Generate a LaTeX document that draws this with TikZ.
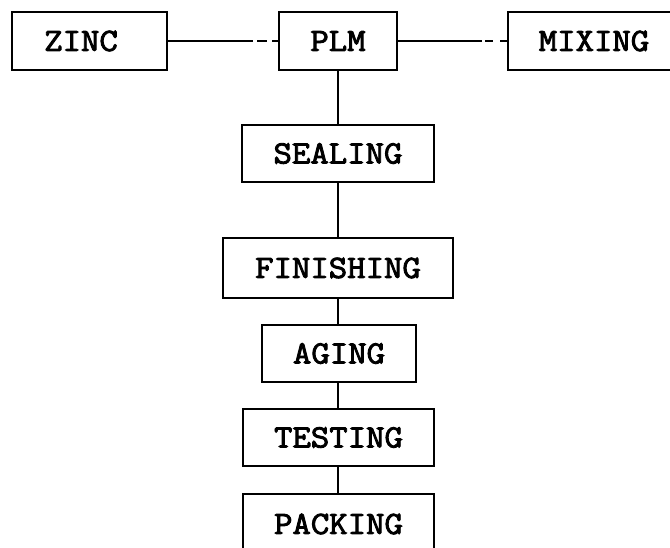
\documentclass[tikz,border=0pt]{standalone}
\usepackage{fontspec}
\newfontfamily\tyfont{Latin Modern Mono}[FakeStretch=1.1]
\newcommand\heavytxt[1]{\special{pdf:literal direct 2 Tr 0.9 w}#1\special{pdf:literal direct 0 Tr}}
\begin{document}
\begin{tikzpicture}[x=1pt,y=-1pt,
  box/.style={draw, line width=2.2pt, inner sep=0pt, font=\tyfont\fontsize{32.5}{32.5}\selectfont},
  conn/.style={line width=2pt},
  dshA/.style={line width=2pt, dash pattern=on 0pt off 4pt on 10pt off 5pt on 30pt off 0pt},
  dshB/.style={line width=2pt, dash pattern=on 0pt off 3pt on 8pt off 7pt on 30pt off 0pt}]
\useasboundingbox (0,0) rectangle (670,548);
\node[box, minimum width=155pt, minimum height=58pt] (zinc) at (89.5,41) {\heavytxt{ZINC}\hspace*{17pt}};
\node[box, minimum width=118pt, minimum height=58pt] (plm) at (338,41) {\heavytxt{PLM}};
\node[box, minimum width=172pt, minimum height=58pt] (mix) at (594,41) {\heavytxt{MIXING}};
\node[box, minimum width=192pt, minimum height=57pt] (seal) at (338,153.5) {\heavytxt{SEALING}};
\node[box, minimum width=230pt, minimum height=60pt] (fin) at (338,268) {\heavytxt{FINISHING}};
\node[box, minimum width=154pt, minimum height=57pt] (age) at (339,353.5) {\heavytxt{AGING}};
\node[box, minimum width=191pt, minimum height=57pt] (test) at (338.5,437.5) {\heavytxt{TESTING}};
\node[box, minimum width=191pt, minimum height=60pt] (pack) at (338.5,524) {\heavytxt{PACKING}};
\coordinate (c1) at (253,41);
\coordinate (c2) at (482,41);
\draw[conn] (zinc.east) -- (c1);
\draw[dshA] (c1) -- (plm.west);
\draw[conn] (plm.east) -- (c2);
\draw[dshB] (c2) -- (mix.west);
\draw[conn] (plm.south) -- (plm.south |- seal.north);
\draw[conn] (seal.south) -- (seal.south |- fin.north);
\draw[conn] (fin.south) -- (fin.south |- age.north);
\draw[conn] (fin.south |- age.south) -- (fin.south |- test.north);
\draw[conn] (fin.south |- test.south) -- (fin.south |- pack.north);
\end{tikzpicture}
\end{document}
